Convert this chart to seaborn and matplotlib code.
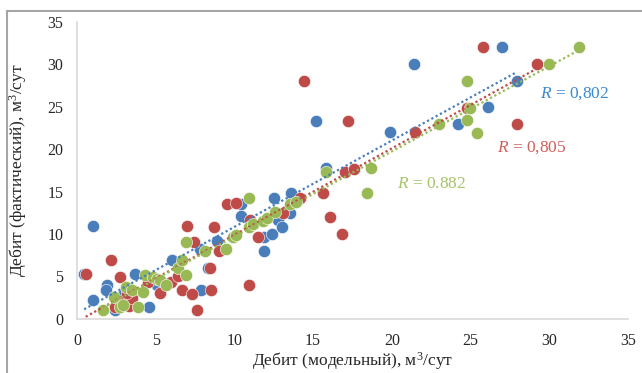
import matplotlib
matplotlib.use("Agg")
import matplotlib.pyplot as plt
import seaborn as sns
from matplotlib.patches import Rectangle

# modelled vs actual flow rate, three well groups
blue_x = [1.0, 1.0, 0.45, 1.9, 1.85, 2.4, 2.9, 3.7, 3.3, 4.6, 5.1, 6.05, 7.8, 7.9,
          8.3, 8.9, 10.4, 10.4, 11.85, 11.9, 12.4, 12.5, 12.8, 13.0, 13.55, 13.6,
          15.2, 15.8, 19.9, 21.4, 24.2, 26.1, 27.0, 27.95]
blue_y = [11.0, 2.2, 5.3, 4.0, 3.4, 1.0, 2.8, 5.3, 3.5, 1.4, 4.0, 6.95, 8.3, 3.4,
          6.0, 9.2, 13.6, 12.1, 8.0, 9.6, 10.0, 14.3, 11.7, 10.8, 12.5, 14.9,
          23.35, 17.8, 22.0, 30.0, 23.0, 25.0, 32.0, 28.0]

red_x = [0.55, 2.15, 2.75, 2.4, 3.0, 3.3, 3.5, 3.2, 4.5, 5.3, 5.95, 6.4, 6.65, 7.3,
         7.6, 7.0, 7.4, 8.45, 8.5, 8.7, 9.05, 9.5, 10.1, 10.95, 11.0, 11.5, 13.1,
         14.15, 14.4, 15.6, 16.1, 16.85, 17.0, 17.2, 17.6, 21.5, 25.8, 24.8, 27.95, 29.2]
red_y = [5.3, 6.95, 4.9, 1.45, 2.0, 1.5, 2.5, 3.0, 4.4, 3.1, 4.4, 5.0, 3.4, 2.9,
         1.0, 11.0, 9.1, 6.0, 3.4, 10.8, 8.05, 13.5, 13.7, 4.0, 11.7, 9.6, 12.5,
         14.3, 28.0, 14.9, 12.0, 10.0, 17.3, 23.35, 17.7, 22.0, 32.0, 24.9, 23.0, 30.0]

green_x = [1.65, 2.36, 2.74, 2.9, 3.1, 3.5, 3.85, 4.2, 4.3, 4.8, 5.1, 5.3, 5.65, 6.4,
           6.7, 6.9, 6.95, 8.1, 9.45, 9.9, 10.1, 10.95, 10.95, 11.2, 11.8, 12.1,
           12.6, 13.55, 13.9, 15.85, 18.4, 18.7, 23.0, 24.8, 25.0, 24.8, 25.4,
           30.0, 31.9]
green_y = [1.0, 2.6, 1.45, 1.6, 3.8, 3.4, 1.45, 3.2, 5.2, 4.9, 4.7, 4.6, 4.0, 6.0,
           6.95, 5.2, 9.1, 8.0, 8.2, 9.7, 9.9, 10.8, 14.3, 11.2, 11.6, 11.9,
           12.6, 13.5, 13.8, 17.3, 14.9, 17.8, 23.0, 23.4, 24.9, 28.0, 21.95,
           30.0, 32.0]

r_values = ["0,802", "0,805", "0.882"]

colors = ["#4A7EBB", "#BE4B48", "#98B954"]
text_colors = ["#3A8AD4", "#D0605C", "#A6C46A"]

sns.set_style("white")
plt.rcParams["font.family"] = ["Liberation Serif", "DejaVu Serif"]
plt.rcParams["mathtext.fontset"] = "custom"
plt.rcParams["mathtext.it"] = "Liberation Serif:italic"
plt.rcParams["mathtext.rm"] = "Liberation Serif"

fig = plt.figure(figsize=(6.42, 3.73), dpi=100)
ax = fig.add_axes([0.12, 0.145, 0.858, 0.796])

for xs, ys, c in zip([blue_x, red_x, green_x], [blue_y, red_y, green_y], colors):
    sns.regplot(x=xs, y=ys, ax=ax, ci=None, color=c,
                scatter_kws=dict(s=78, alpha=1, edgecolor="white", linewidths=0.4, zorder=3),
                line_kws=dict(linestyle=(0, (1, 1.2)), linewidth=1.6, zorder=4))

# correlation labels
label_pos = [(29.4, 26.6), (26.7, 20.2), (20.3, 15.9)]
for (tx, ty), val, tc in zip(label_pos, r_values, text_colors):
    ax.text(tx, ty, "$R$ = " + val, color=tc, fontsize=12.5, ha="left", va="center")

ax.set_xlim(0, 35)
ax.set_ylim(0, 35)
ax.set_xticks(range(0, 36, 5))
ax.set_yticks(range(0, 36, 5))
ax.tick_params(labelsize=11.5, length=0, pad=10)
ax.set_xlabel("Дебит (модельный), м$^3$/сут", fontsize=12.5, labelpad=1)
ax.set_ylabel("Дебит (фактический), м$^3$/сут", fontsize=12.5, labelpad=13)
sns.despine(ax=ax)
for side in ["left", "bottom"]:
    ax.spines[side].set_color("#D9D9D9")
    ax.spines[side].set_linewidth(1.2)

# outer chart border (cropped at right and bottom)
fig.patches.append(Rectangle((7 / 642, -0.1), 1.2, 1.1 - 11 / 373,
                             transform=fig.transFigure, fill=False,
                             edgecolor="#A6A6A6", linewidth=1.5))

fig.savefig("out.png", dpi=100)
